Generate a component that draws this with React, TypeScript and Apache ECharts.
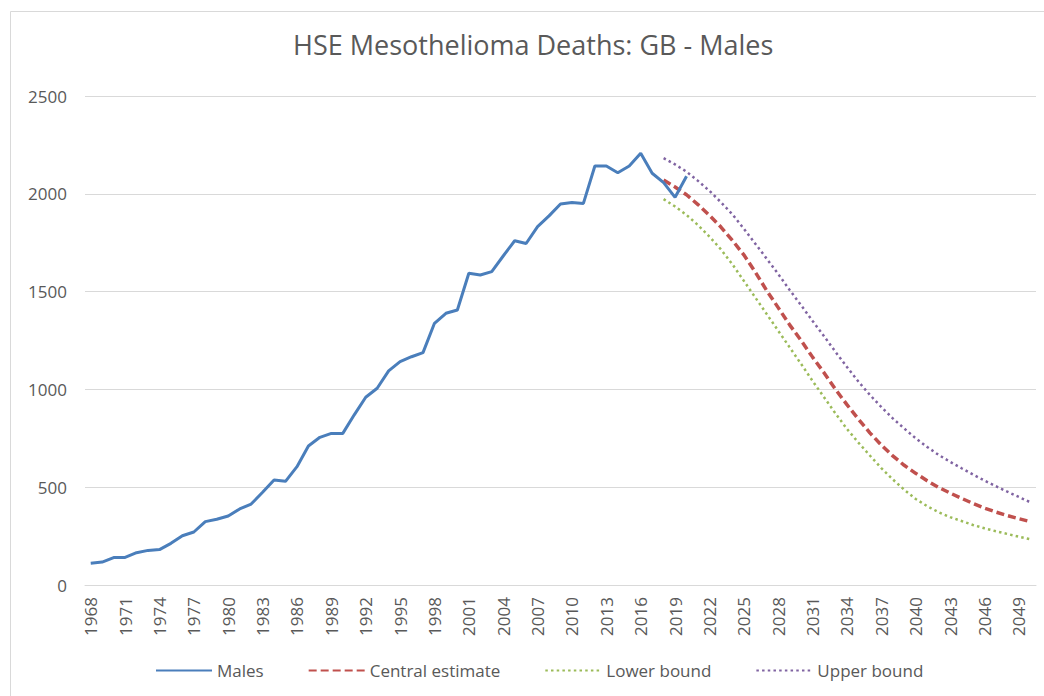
import React, { useEffect, useRef } from "react";
import * as echarts from "echarts";

const years: string[] = [
  "1968","1969","1970","1971","1972","1973","1974","1975","1976","1977",
  "1978","1979","1980","1981","1982","1983","1984","1985","1986","1987",
  "1988","1989","1990","1991","1992","1993","1994","1995","1996","1997",
  "1998","1999","2000","2001","2002","2003","2004","2005","2006","2007",
  "2008","2009","2010","2011","2012","2013","2014","2015","2016","2017",
  "2018","2019","2020","2021","2022","2023","2024","2025","2026","2027",
  "2028","2029","2030","2031","2032","2033","2034","2035","2036","2037",
  "2038","2039","2040","2041","2042","2043","2044","2045","2046","2047",
  "2048","2049","2050",
];

// Observed deaths, 1968-2020
const males: number[] = [
  111, 117, 140, 141, 165, 177, 181, 213, 252, 271,
  324, 336, 353, 389, 414, 474, 537, 530, 605, 711,
  755, 775, 775, 870, 960, 1006, 1095, 1142, 1167, 1188,
  1338, 1389, 1406, 1594, 1585, 1602, 1682, 1760, 1746, 1832,
  1887, 1948, 1955, 1951, 2142, 2142, 2108, 2142, 2207, 2105,
  2057, 1982, 2090,
];

// Projections, 2018-2050
const projStartYear = "2018";
const central: number[] = [
  2070, 2035, 1995, 1945, 1890, 1830, 1762, 1688, 1600, 1505,
  1418, 1330, 1250, 1165, 1085, 1000, 922, 848, 778, 715,
  660, 612, 571, 533, 499, 470, 443, 417, 393, 373,
  355, 339, 324,
];
const lower: number[] = [
  1973, 1935, 1892, 1840, 1781, 1716, 1640, 1555, 1470, 1385,
  1300, 1215, 1130, 1043, 960, 877, 798, 728, 662, 598,
  540, 487, 440, 403, 372, 347, 327, 307, 290, 275,
  261, 247, 234,
];
const upper: number[] = [
  2182, 2150, 2113, 2066, 2015, 1957, 1895, 1822, 1745, 1668,
  1590, 1508, 1430, 1350, 1272, 1192, 1115, 1040, 972, 910,
  852, 800, 750, 706, 665, 630, 597, 565, 534, 505,
  477, 450, 423,
];

const yTicks = { min: 0, max: 2500, interval: 500 };

function pad(values: number[], startYear: string): (number | null)[] {
  const start = years.indexOf(startYear);
  return years.map((_, i) => {
    const j = i - start;
    return j >= 0 && j < values.length ? values[j] : null;
  });
}

const FONT = "'Open Sans', 'Noto Sans', sans-serif";
const TEXT = "#595959";

export default function App() {
  const ref = useRef<HTMLDivElement>(null);
  useEffect(() => {
    if (!ref.current) return;
    const chart = echarts.init(ref.current, undefined, { renderer: "svg" });
    chart.setOption({
      animation: false,
      backgroundColor: "#ffffff",
      textStyle: { fontFamily: FONT },
      title: {
        text: "HSE Mesothelioma Deaths: GB - Males",
        left: 288,
        top: 26,
        textStyle: { fontFamily: FONT, fontSize: 27, fontWeight: "normal", color: TEXT },
      },
      graphic: [
        {
          type: "rect",
          shape: { x: 10.5, y: 11.5, width: 1200, height: 900 },
          style: { fill: "none", stroke: "#d9d9d9", lineWidth: 1 },
          silent: true,
        },
      ],
      grid: { left: 85, right: 8, top: 96, bottom: 111, containLabel: false },
      legend: {
        bottom: 12,
        left: 150,
        itemWidth: 56,
        itemHeight: 12,
        itemGap: 44,
        itemStyle: { opacity: 0 },
        textStyle: { fontFamily: FONT, fontSize: 17, color: TEXT },
        data: ["Males", "Central estimate", "Lower bound", "Upper bound"],
      },
      xAxis: {
        type: "category",
        data: years,
        boundaryGap: true,
        axisLine: { show: true, lineStyle: { color: "#d9d9d9", width: 1 } },
        axisTick: { show: false },
        axisLabel: {
          interval: 2,
          rotate: 90,
          margin: 12,
          color: TEXT,
          fontSize: 17,
          fontFamily: FONT,
        },
        splitLine: { show: false },
      },
      yAxis: {
        type: "value",
        min: yTicks.min,
        max: yTicks.max,
        interval: yTicks.interval,
        axisLine: { show: false },
        axisTick: { show: false },
        axisLabel: {
          margin: 18,
          color: TEXT,
          fontSize: 17,
          fontFamily: FONT,
          formatter: (v: number) => String(v),
        },
        splitLine: { lineStyle: { color: "#d9d9d9", width: 1 } },
      },
      series: [
        {
          name: "Males",
          type: "line",
          data: pad(males, "1968"),
          symbol: "none",
          lineStyle: { color: "#4A7EBB", width: 3 },
          itemStyle: { color: "#4A7EBB" },
          z: 5,
        },
        {
          name: "Central estimate",
          type: "line",
          data: pad(central, projStartYear),
          symbol: "none",
          lineStyle: { color: "#C0504D", width: 3.5, type: [8, 4] },
          itemStyle: { color: "#C0504D" },
        },
        {
          name: "Lower bound",
          type: "line",
          data: pad(lower, projStartYear),
          symbol: "none",
          lineStyle: { color: "#9BBB59", width: 2.5, type: [2.5, 3.2] },
          itemStyle: { color: "#9BBB59" },
        },
        {
          name: "Upper bound",
          type: "line",
          data: pad(upper, projStartYear),
          symbol: "none",
          lineStyle: { color: "#8064A2", width: 2.5, type: [2.5, 3.2] },
          itemStyle: { color: "#8064A2" },
        },
      ],
    });
    return () => chart.dispose();
  }, []);
  return (
    <div
      ref={ref}
      style={{ position: "fixed", left: 0, top: 0, width: 1044, height: 696 }}
    />
  );
}
